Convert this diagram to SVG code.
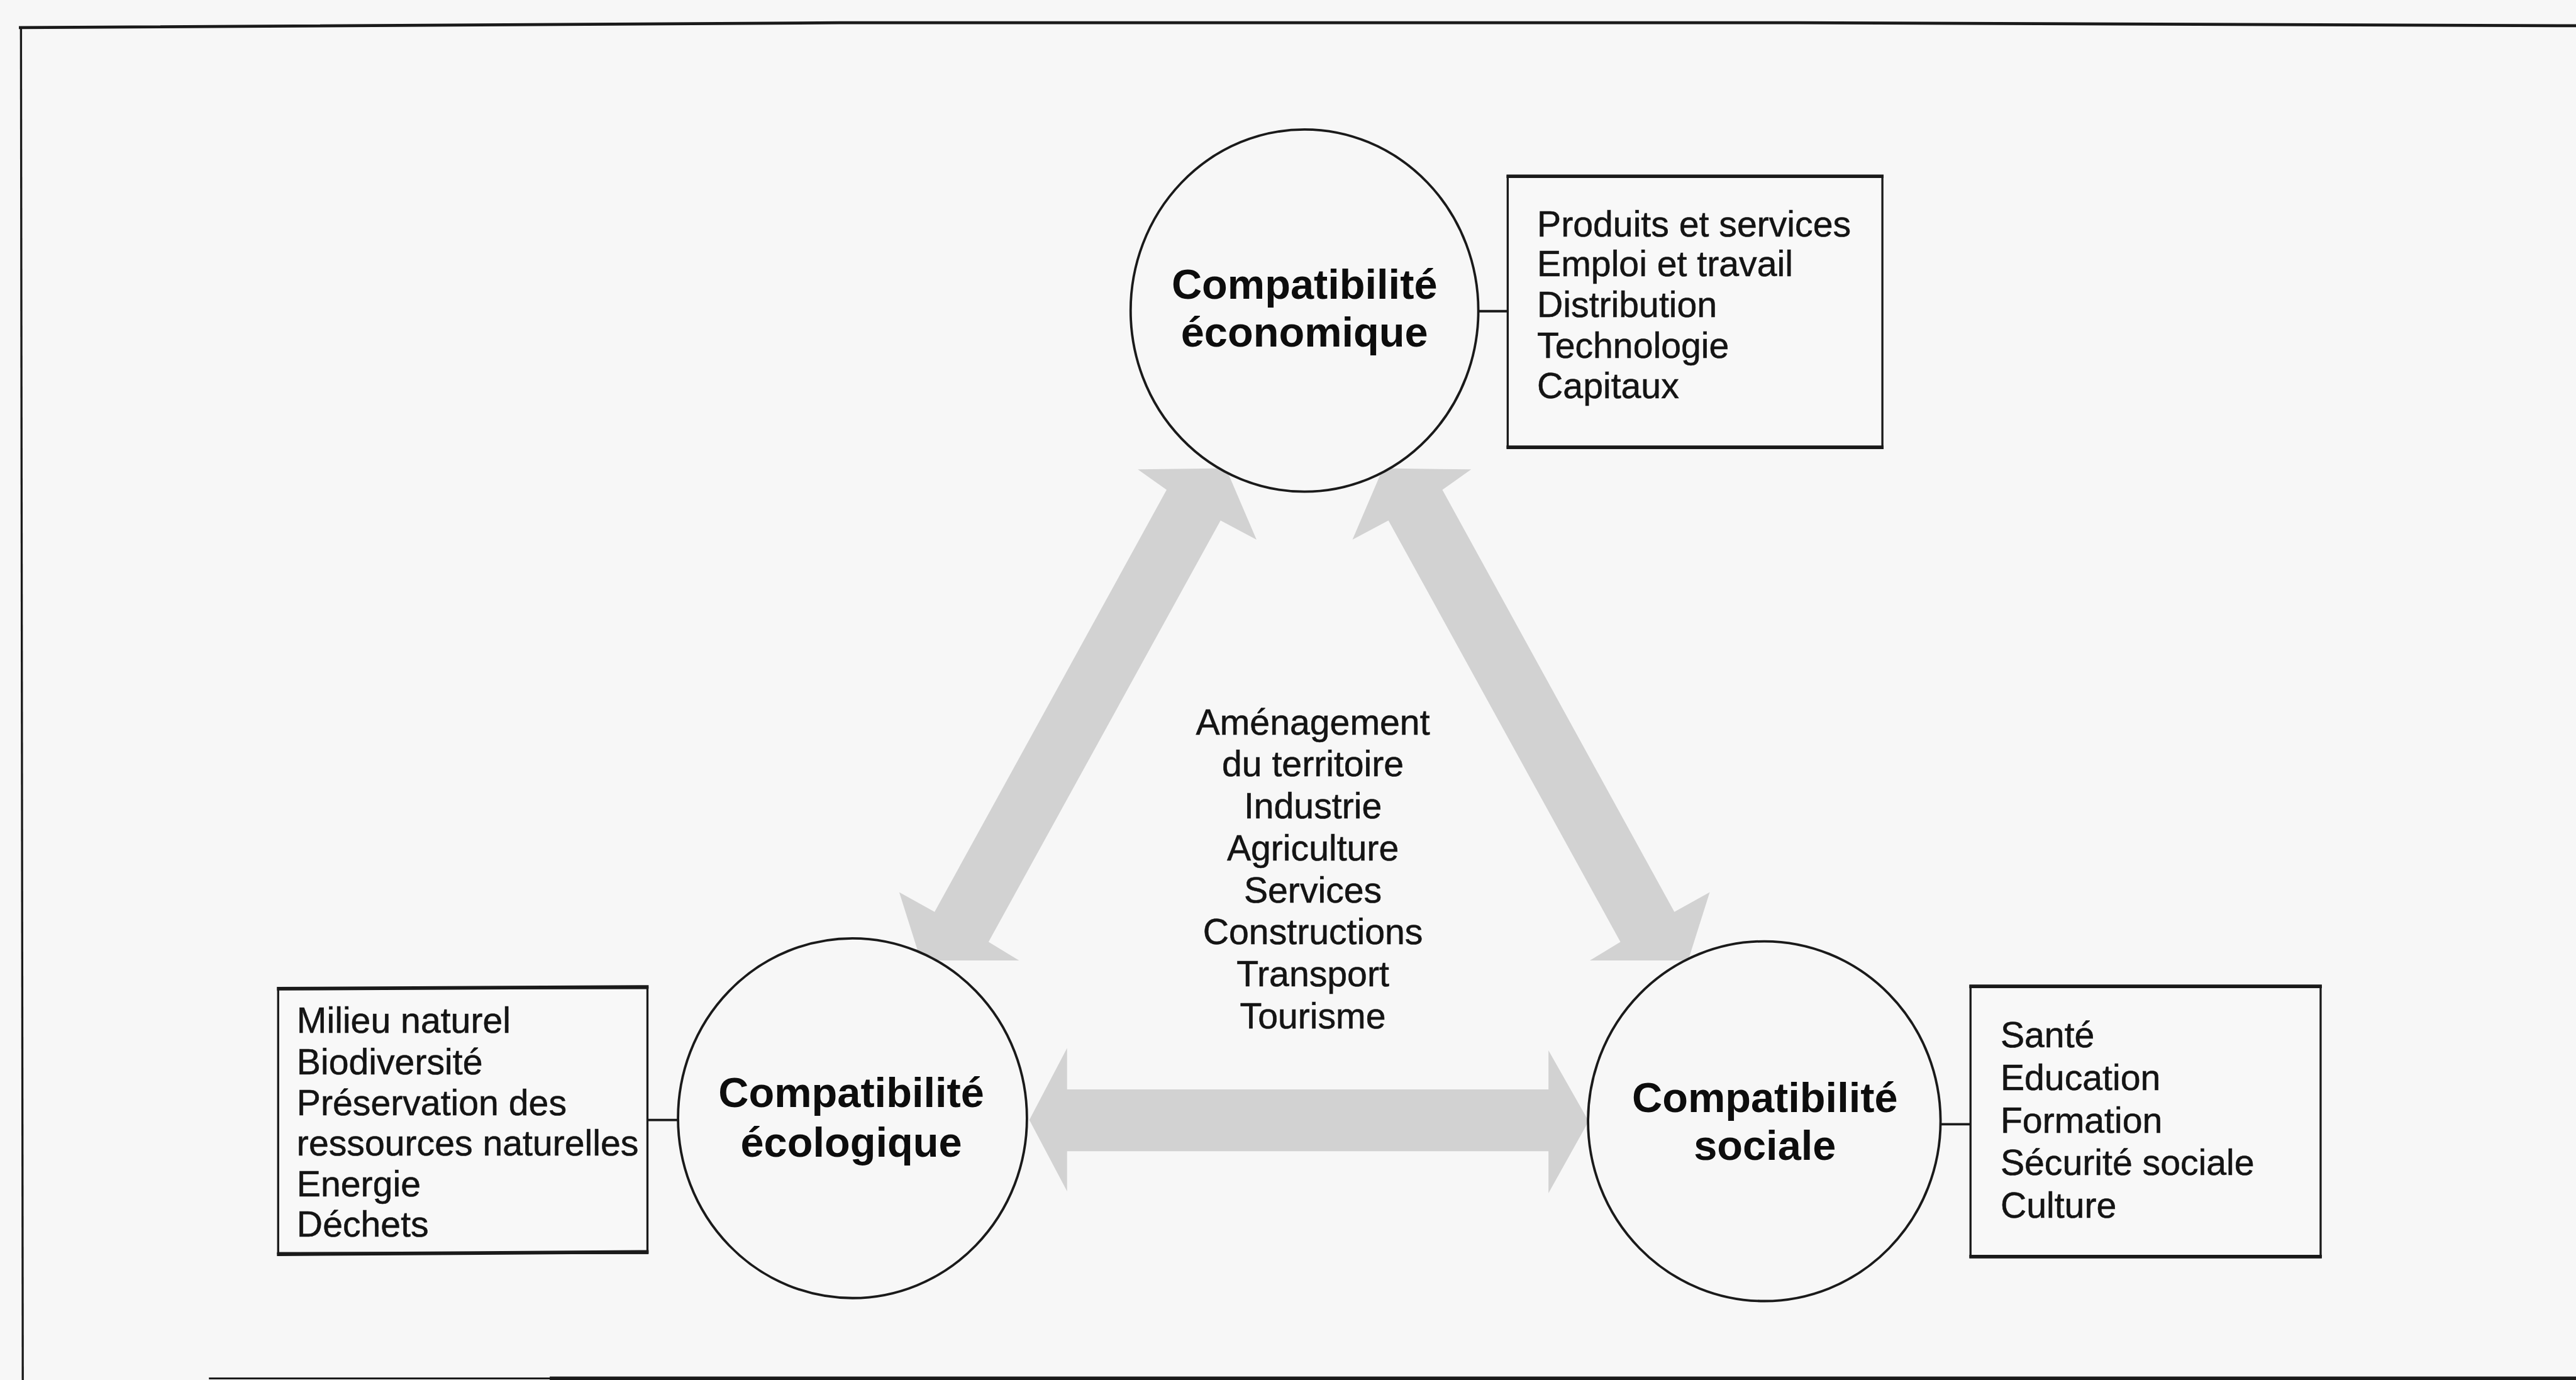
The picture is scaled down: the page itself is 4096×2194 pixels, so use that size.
<svg xmlns="http://www.w3.org/2000/svg" width="4096" height="2194" viewBox="0 0 4096 2194">
  <style>
    .bg { fill: #f7f7f7; }
    .frame { fill: none; stroke: #1a1a1a; stroke-linecap: square; }
    .circ { fill: #f7f7f7; stroke: #1a1a1a; stroke-width: 4; }
    .box { fill: #f8f8f8; stroke: #1a1a1a; stroke-width: 3.5; }
    .boxedge { stroke: #1a1a1a; stroke-width: 6; }
    .link { stroke: #1a1a1a; stroke-width: 4; }
    .arrow { fill: #d2d2d2; }
    .t { font-family: "Liberation Sans", Arial, sans-serif; font-size: 60px; fill: #141414; stroke: #141414; stroke-width: 0.6; }
    .lbl { font-family: "Liberation Sans", Arial, sans-serif; font-size: 70px; font-weight: bold; fill: #0d0d0d; text-anchor: middle; }
    .mid { text-anchor: middle; }
  </style>
  <rect class="bg" x="0" y="0" width="4096" height="2194"/>
  <g transform="scale(0.953223)">
    <g id="frame">
      <path class="frame" stroke-width="5" d="M34,46 L1400,38 L3000,38 L4300,43"/>
      <path class="frame" stroke-width="3.5" d="M35,46 L38,2305"/>
      <path class="frame" stroke-width="3" stroke="#8a8a8a" d="M350,2299 L920,2299"/>
      <path class="frame" stroke-width="6" d="M920,2299 L4300,2299"/>
    </g>

    <g id="connectors">
      <polygon class="arrow" points="1717,1868 1780,1748 1780,1817 2583,1817 2583,1752 2650,1870 2583,1990 2583,1920 1780,1920 1780,1987"/>
      <polygon class="arrow" points="2045,781 2096,900 2036,868 1649,1571 1700,1602 1536,1602 1500,1488 1559,1521 1946,817 1898,783"/>
      <polygon class="arrow" points="2307,781 2256,900 2316,868 2703,1571 2652,1602 2816,1602 2852,1488 2793,1521 2406,817 2454,783"/>
      <line class="link" x1="2466" y1="519" x2="2515" y2="519"/>
      <line class="link" x1="1080" y1="1868" x2="1131" y2="1868"/>
      <line class="link" x1="3238" y1="1875" x2="3287" y2="1875"/>
    </g>

    <g id="center-activities">
      <text class="t mid" x="2190" y="1225">Aménagement</text>
      <text class="t mid" x="2190" y="1295">du territoire</text>
      <text class="t mid" x="2190" y="1365">Industrie</text>
      <text class="t mid" x="2190" y="1435">Agriculture</text>
      <text class="t mid" x="2190" y="1505">Services</text>
      <text class="t mid" x="2190" y="1575">Constructions</text>
      <text class="t mid" x="2190" y="1645">Transport</text>
      <text class="t mid" x="2190" y="1715">Tourisme</text>
    </g>

    <g id="node-economique">
      <ellipse class="circ" cx="2176" cy="518" rx="290" ry="302"/>
      <text class="lbl" x="2176" y="498">Compatibilité</text>
      <text class="lbl" x="2176" y="578">économique</text>
    </g>

    <g id="box-economique">
      <rect class="box" x="2515" y="294" width="625" height="452"/>
      <line class="boxedge" x1="2513" y1="294" x2="3142" y2="294"/>
      <line class="boxedge" x1="2513" y1="746" x2="3142" y2="746"/>
      <text class="t" x="2564" y="394">Produits et services</text>
      <text class="t" x="2564" y="461">Emploi et travail</text>
      <text class="t" x="2564" y="529">Distribution</text>
      <text class="t" x="2564" y="597">Technologie</text>
      <text class="t" x="2564" y="664">Capitaux</text>
    </g>

    <g id="node-ecologique">
      <ellipse class="circ" cx="1422" cy="1865" rx="291" ry="300"/>
      <text class="lbl" x="1420" y="1846">Compatibilité</text>
      <text class="lbl" x="1420" y="1929">écologique</text>
    </g>

    <g id="box-ecologique">
      <rect class="box" x="464" y="1648" width="616" height="442"/>
      <line class="boxedge" x1="462" y1="1649" x2="1082" y2="1646"/>
      <line class="boxedge" x1="462" y1="2092" x2="1082" y2="2088"/>
      <text class="t" x="495" y="1723">Milieu naturel</text>
      <text class="t" x="495" y="1792">Biodiversité</text>
      <text class="t" x="495" y="1860">Préservation des</text>
      <text class="t" x="495" y="1927">ressources naturelles</text>
      <text class="t" x="495" y="1995">Energie</text>
      <text class="t" x="495" y="2063">Déchets</text>
    </g>

    <g id="node-sociale">
      <ellipse class="circ" cx="2943" cy="1870" rx="294" ry="300"/>
      <text class="lbl" x="2944" y="1855">Compatibilité</text>
      <text class="lbl" x="2944" y="1935">sociale</text>
    </g>

    <g id="box-sociale">
      <rect class="box" x="3287" y="1645" width="584" height="451"/>
      <line class="boxedge" x1="3285" y1="1645" x2="3873" y2="1645"/>
      <line class="boxedge" x1="3285" y1="2096" x2="3873" y2="2096"/>
      <text class="t" x="3337" y="1747">Santé</text>
      <text class="t" x="3337" y="1818">Education</text>
      <text class="t" x="3337" y="1889">Formation</text>
      <text class="t" x="3337" y="1960">Sécurité sociale</text>
      <text class="t" x="3337" y="2031">Culture</text>
    </g>
  </g>
</svg>
